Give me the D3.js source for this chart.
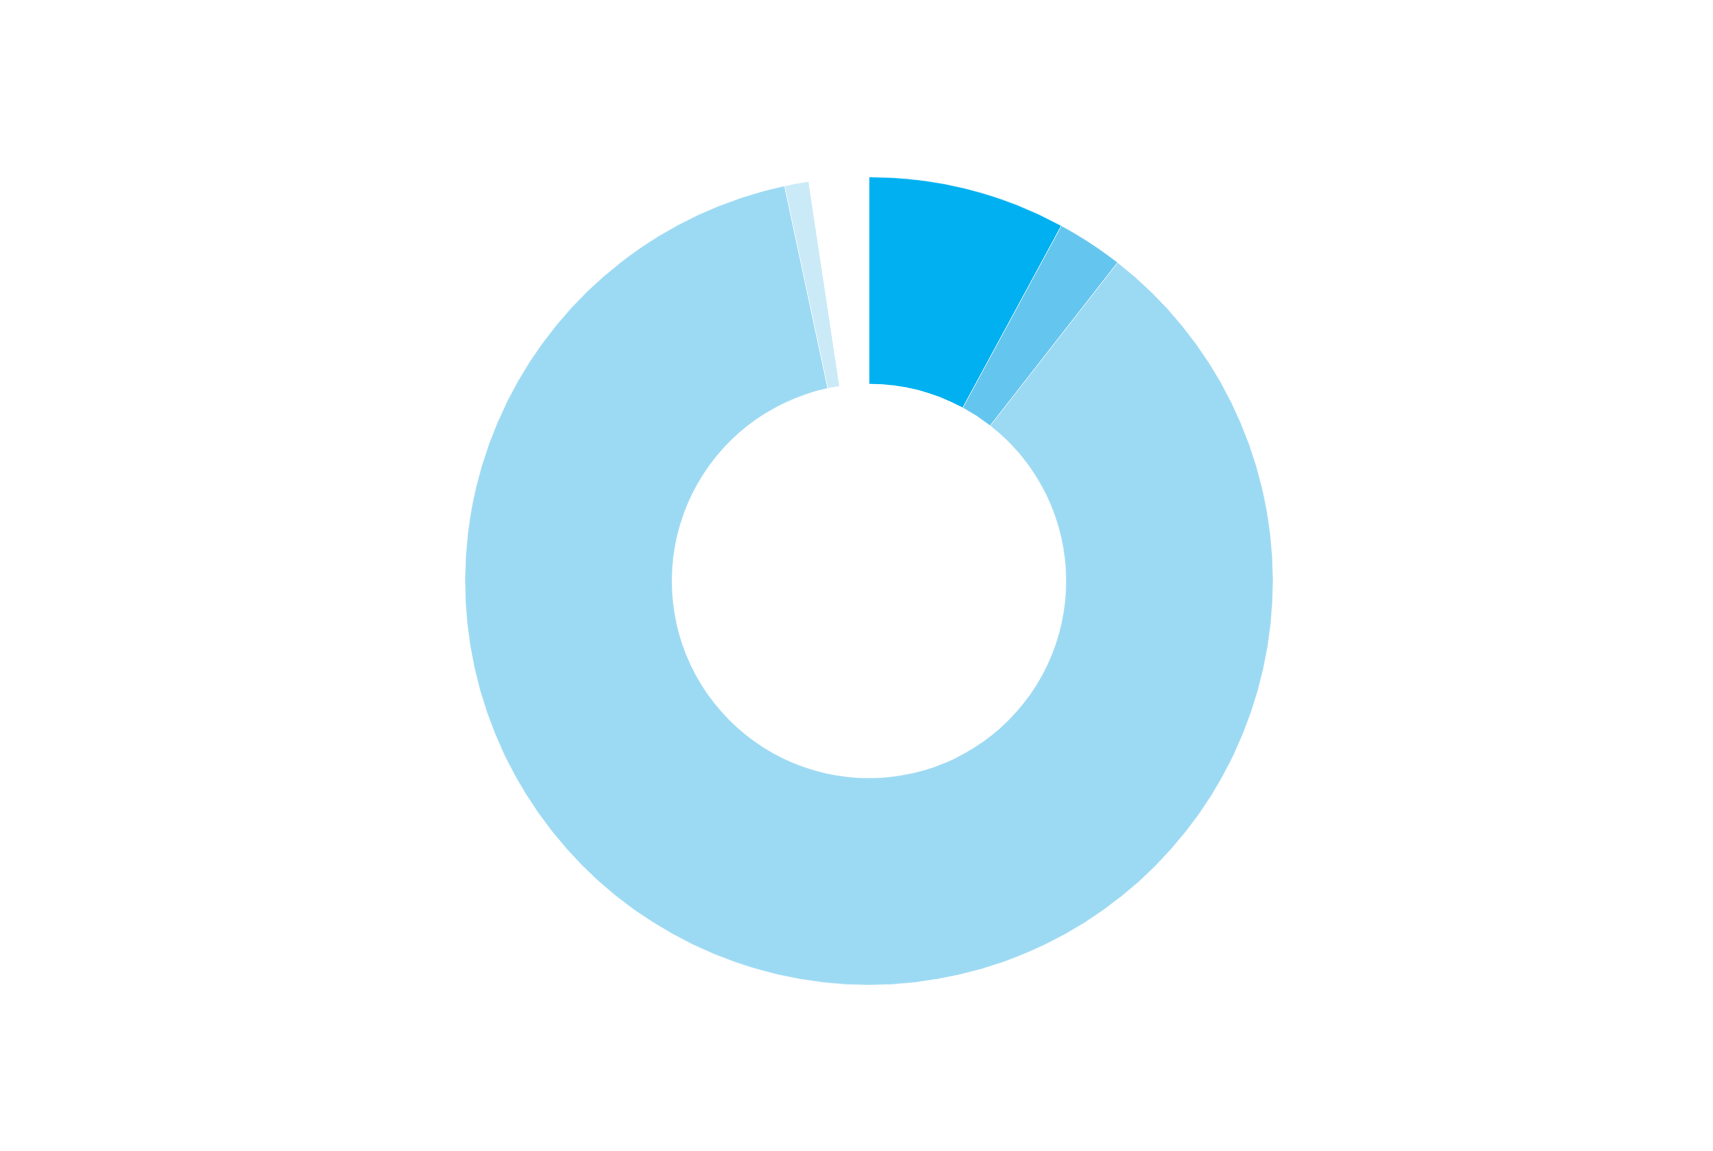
<!DOCTYPE html>
<html>
<head>
<meta charset="utf-8">
<script src="https://cdn.jsdelivr.net/npm/d3@7"></script>
<style>
  html, body { margin: 0; padding: 0; background: #ffffff; }
  svg { display: block; }
</style>
</head>
<body>
<svg id="chart" width="1713" height="1151"></svg>
<script>
// Data (share of the whole, in %)
const categories = ["A", "B", "C", "D", "Other"];
const values = [7.9, 2.65, 86.1, 0.97, 2.38];
const colors = ["#00B0F0", "#64C5EE", "#9CD9F3", "#CAEAF8", "#FFFFFF"];

const width = 1713, height = 1151;
const cx = 869, cy = 581;
const outerR = 404, innerR = 197;

const svg = d3.select("#chart");
const g = svg.append("g").attr("transform", `translate(${cx},${cy})`);

const pie = d3.pie().sort(null).value(d => d.value);
const arc = d3.arc().innerRadius(innerR).outerRadius(outerR);

const data = categories.map((c, i) => ({ name: c, value: values[i], color: colors[i] }));

g.selectAll("path")
  .data(pie(data))
  .join("path")
  .attr("d", arc)
  .attr("fill", d => d.data.color)
  .attr("stroke", "#ffffff")
  .attr("stroke-width", 0.4);
</script>
</body>
</html>
